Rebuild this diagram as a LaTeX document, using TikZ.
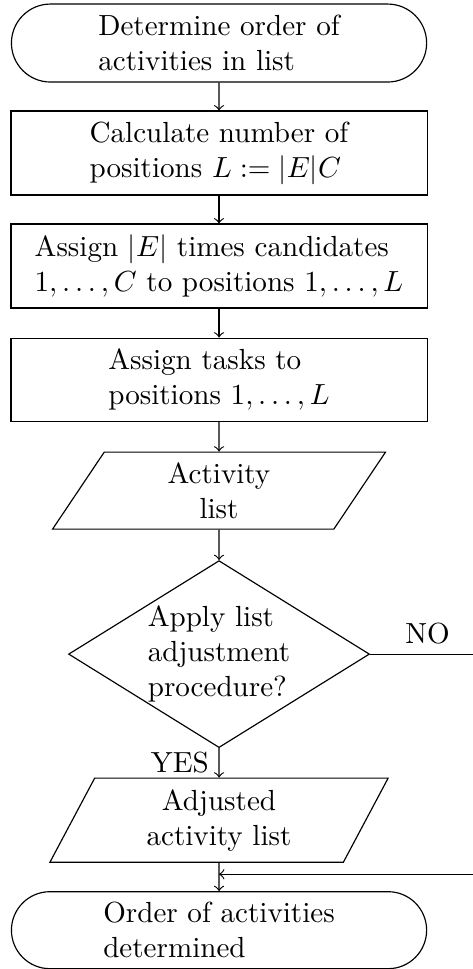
\documentclass[tikz,border=0pt]{standalone}
\usetikzlibrary{shapes.geometric,shapes.misc}
\begin{document}
\begin{tikzpicture}[
  term/.style = {draw, rounded rectangle, align=left, minimum width=5.25cm, minimum height=0.942cm},
  proc/.style = {draw, rectangle, align=left, minimum width=5.027cm, minimum height=1.015cm},
  io/.style = {draw, trapezium, trapezium left angle=70, trapezium right angle=110, trapezium stretches=true, align=center, minimum height=0.93cm},
  dec/.style = {draw, diamond, align=left, inner sep=0pt, aspect=1.61, minimum width=3.636cm, minimum height=2.259cm}]
  \useasboundingbox (-2.646,0) rectangle (3.068,-11.706);
  \node [term] (start) at (0,-0.520) {Determine order of\\activities in list};
  \node [proc] (calc) at (0,-1.849) {Calculate number of\\positions $L := |E|C$};
  \node [proc] (assign) at (0,-3.214) {Assign $|E|$ times candidates\\$1,\ldots,C$ to positions $1,\ldots,L$};
  \node [proc, minimum height=1.003cm] (tasks) at (0,-4.586) {Assign tasks to\\positions $1,\ldots,L$};
  \node [io, minimum width=4.035cm] (actlist) at (0,-5.927) {Activity\\list};
  \node [dec] (apply) at (0,-7.902) {Apply list\\adjustment\\procedure?};
  \node [io, minimum width=4.095cm, minimum height=1.015cm] (adjlist) at (0,-9.908) {Adjusted\\activity list};
  \node [term, minimum height=0.93cm] (finish) at (0,-11.237) {Order of activities\\determined};
  \coordinate (noright) at (3.214,-7.902);
  \coordinate (merge) at (0,-10.561);
  \draw [->] (start) -- (calc);
  \draw [->] (calc) -- (assign);
  \draw [->] (assign) -- (tasks);
  \draw [->] (tasks) -- (actlist);
  \draw [->] (actlist) -- (apply);
  \draw [->] (apply) -- node [left] {YES} (adjlist);
  \draw [->] (adjlist) -- (finish);
  \draw [->] (apply.east) -- node [above] {NO} (noright) |- (merge);
\end{tikzpicture}
\end{document}
